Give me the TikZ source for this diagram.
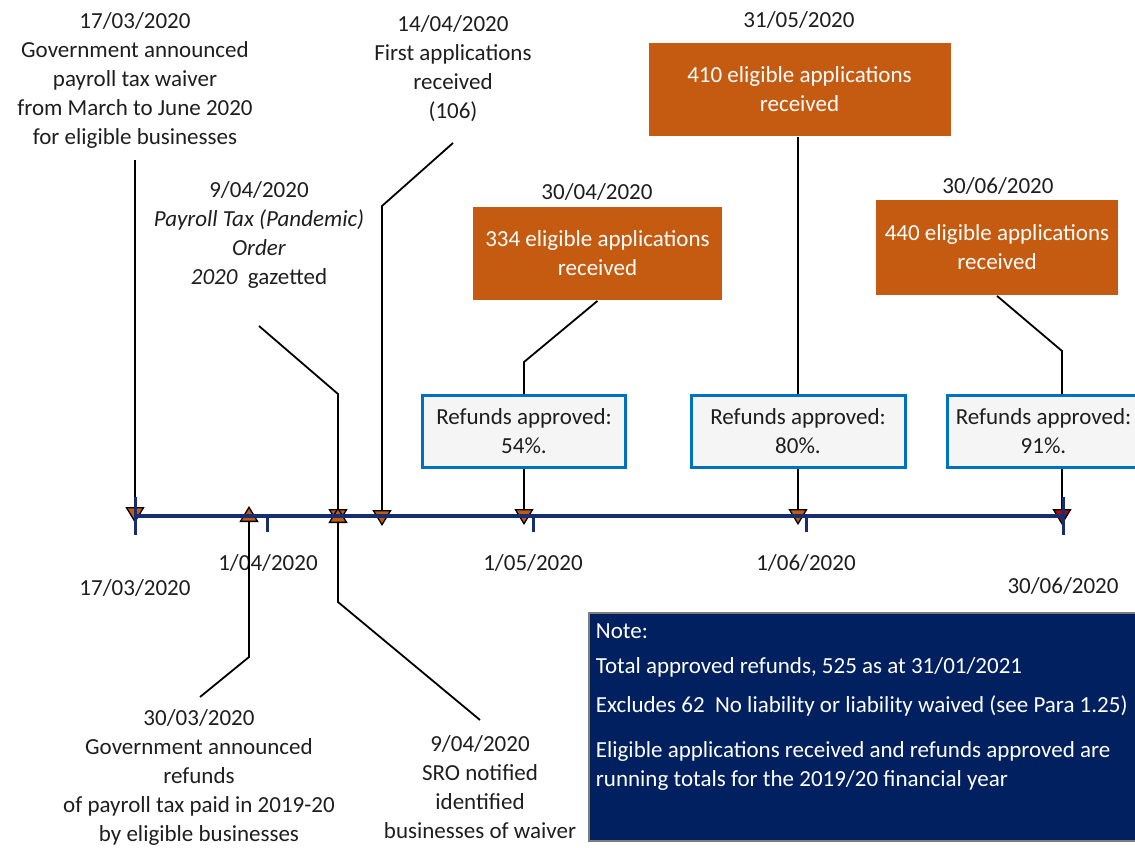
\documentclass[tikz,border=0pt]{standalone}
\usepackage{fontspec}
\setmainfont{Carlito}
\usepackage{tikz}
\usetikzlibrary{arrows.meta}
\definecolor{box_orange}{RGB}{197,90,17}
\definecolor{axis_navy}{RGB}{22,46,110}
\definecolor{refund_blue}{RGB}{0,112,192}
\definecolor{refund_fill}{RGB}{245,245,245}
\definecolor{note_navy}{RGB}{0,32,96}
\definecolor{note_edge}{RGB}{125,125,125}
\definecolor{mark_red}{RGB}{192,0,0}
\definecolor{text_gray}{RGB}{30,30,30}
\newcommand{\lblfont}{\fontsize{23}{29}\selectfont}

\begin{document}
\begin{tikzpicture}[x=1pt,y=-1pt,line width=1.8pt]
    \tikzstyle{lbl}=[align=center, inner sep=0pt, font=\lblfont, text=text_gray]
    \tikzstyle{appbox}=[fill=box_orange, draw=none, text=white, align=center, inner sep=0pt, font=\lblfont]
    \tikzstyle{refbox}=[draw=refund_blue, line width=3pt, fill=refund_fill, align=center, inner sep=0pt, minimum height=72pt, font=\lblfont, text=text_gray]
    \tikzstyle{notebox}=[draw=note_edge, line width=1.5pt, fill=note_navy, inner sep=0pt]
    \tikzstyle{evt}=[-{Triangle[length=16pt,width=19pt,line width=1.3pt,fill=box_orange]}]
    \tikzstyle{evtend}=[-{Triangle[length=16pt,width=19pt,line width=1.3pt,fill=mark_red]}]
    \tikzstyle{tline}=[draw=axis_navy, line width=4pt]
    \tikzstyle{tickmark}=[draw=axis_navy, line width=3pt]

    \useasboundingbox (0,0) rectangle (1135,847);

    % events above the line
    \node[lbl, anchor=north] (e1703) at (135,12)  {17/03/2020\\Government announced\\payroll tax waiver\\from March to June 2020\\for eligible businesses};
    \node[lbl, anchor=north] (e0904a) at (259,181) {9/04/2020\\\textit{Payroll Tax (Pandemic)}\\\textit{Order}\\\textit{2020}~ gazetted};
    \node[lbl, anchor=north] (e1404) at (453,15)  {14/04/2020\\First applications\\received\\(106)};

    \node[lbl] (d3004) at (597,192)  {30/04/2020};
    \node[lbl] (d3105) at (799,20)   {31/05/2020};
    \node[lbl] (d3006) at (998,186)  {30/06/2020};

    \node[appbox, minimum width=249pt, minimum height=93pt] (app3004) at (597.5,253.5) {334 eligible applications\\received};
    \node[appbox, minimum width=302pt, minimum height=93pt] (app3105) at (799.5,89.5)  {410 eligible applications\\received};
    \node[appbox, minimum width=242pt, minimum height=95pt] (app3006) at (997,247.5)   {440 eligible applications\\received};

    \node[refbox, minimum width=203pt] (ref3004) at (524,431.5)    {Refunds approved:\\54\%.};
    \node[refbox, minimum width=214pt] (ref3105) at (798,431.5)    {Refunds approved:\\80\%.};
    \node[refbox, minimum width=193pt] (ref3006) at (1043.5,431.5) {Refunds approved:\\91\%.};

    % dates under the line
    \node[lbl] (d0104) at (268,563)  {1/04/2020};
    \node[lbl] (d0105) at (533,563)  {1/05/2020};
    \node[lbl] (d0106) at (806,563)  {1/06/2020};
    \node[lbl] (d1703) at (135,588)  {17/03/2020};
    \node[lbl] (d3006b) at (1063,586) {30/06/2020};

    % events below the line
    \node[lbl, anchor=north] (e3003) at (199,709)  {30/03/2020\\Government announced\\refunds\\of payroll tax paid in 2019-20\\by eligible businesses};
    \node[lbl, anchor=north] (e0904b) at (480,735) {9/04/2020\\SRO notified\\identified\\businesses of waiver};

    % bends and ends of the connectors
    \coordinate (s1703) at (135,160);   \coordinate (t1703) at (135,523);
    \coordinate (s0904a) at (259,326);  \coordinate (k0904a) at (338,394);  \coordinate (t0904a) at (338,525);
    \coordinate (s1404) at (453,143);   \coordinate (k1404) at (382,206);   \coordinate (t1404) at (382,526);
    \coordinate (k3004) at (524,362);   \coordinate (t3004) at (524,525);
    \coordinate (t3105) at (798,525);
    \coordinate (k3006) at (1062,351);  \coordinate (t3006) at (1062,525);
    \coordinate (s3003) at (200,697);   \coordinate (k3003) at (249,657);   \coordinate (t3003) at (249,506);
    \coordinate (s0904b) at (480,720);  \coordinate (k0904b) at (338,602);  \coordinate (t0904b) at (338,507);

    \path
     (s1703) edge[evt] (t1703)
     (app3105.south -| ref3105.north) edge[] (ref3105.north)
     (ref3105.south) edge[evt] (t3105)
     (ref3004.south) edge[evt] (t3004)
     (k3006 |- ref3006.south) edge[evtend] (t3006)
     ;
    \draw[evt] (s0904a) -- (k0904a) -- (t0904a);
    \draw[evt] (s1404) -- (k1404) -- (t1404);
    \draw (app3004.south) -- (k3004) -- (ref3004.north);
    \draw (app3006.south) -- (k3006) -- (k3006 |- ref3006.north);
    \draw[evt] (s3003) -- (k3003) -- (t3003);
    \draw[evt] (s0904b) -- (k0904b) -- (t0904b);

    % the time line
    \coordinate (tl0) at (135,516);  \coordinate (tl1) at (1063,516);
    \draw[tline] (tl0) -- (tl1);
    \foreach \tx in {267,533,806}
      \draw[tickmark] (\tx,516) -- (\tx,532);
    \draw[tickmark] (135,497) -- (135,535);
    \draw[tickmark] (1063,497) -- (1063,535);

    % note
    \node[notebox, minimum width=552pt, minimum height=228pt, anchor=north west] (note) at (588,612) {};
    \node[inner sep=0pt, anchor=north west, align=left, text=white, font=\lblfont] (notetxt) at (595,623)
      {Note:\\[6pt]Total approved refunds, 525 as at 31/01/2021\\[10pt]Excludes 62~ No liability or liability waived (see Para 1.25)\\[16pt]Eligible applications received and refunds approved are\\running totals for the 2019/20 financial year};
\end{tikzpicture}
\end{document}
